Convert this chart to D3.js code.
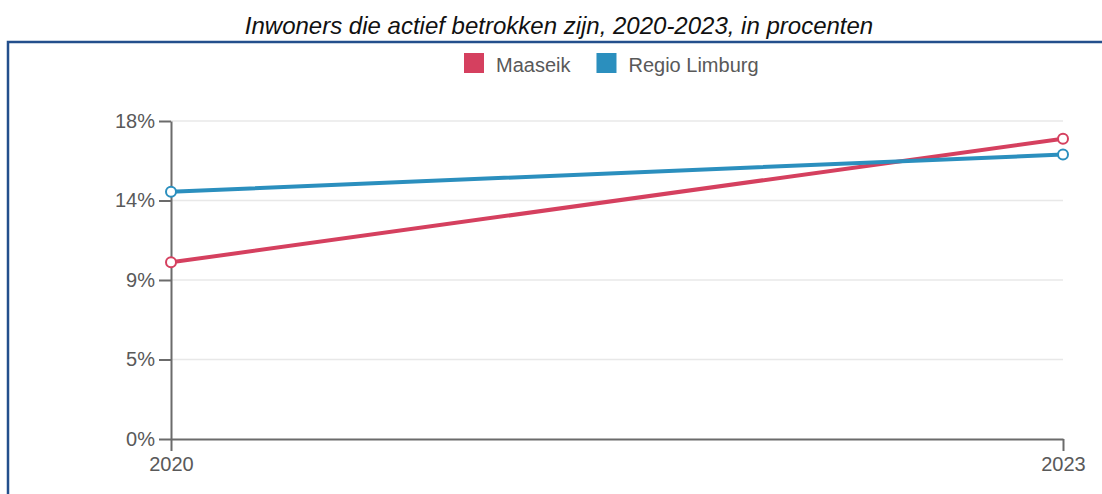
<!DOCTYPE html>
<html>
<head>
<meta charset="utf-8">
<script src="https://cdn.jsdelivr.net/npm/d3@7"></script>
<style>
  html, body { margin: 0; padding: 0; background: #fff; }
  svg { display: block; }
  text { font-family: "Liberation Sans", Arial, sans-serif; }
</style>
</head>
<body>
<svg id="chart" width="1102" height="494"></svg>
<script>
const title = "Inwoners die actief betrokken zijn, 2020-2023, in procenten";
const years = [2020, 2023];
const seriesNames = ["Maaseik", "Regio Limburg"];
const maaseik = [10.0, 17.0];
const regioLimburg = [14.0, 16.1];
const yTickValues = [0, 4.5, 9, 13.5, 18];
const yTickLabels = ["0%", "5%", "9%", "14%", "18%"];
const colors = ["#d5405f", "#2b8fbe"];

const svg = d3.select("#chart");
const W = 1102, H = 494;
const margin = { left: 171, right: 39, top: 121, bottom: 55 };

// frame border
svg.append("rect")
  .attr("x", 8).attr("y", 42)
  .attr("width", 1300).attr("height", 700)
  .attr("fill", "none")
  .attr("stroke", "#234f8c")
  .attr("stroke-width", 2.5);

// title
svg.append("text")
  .attr("x", 559).attr("y", 34)
  .attr("text-anchor", "middle")
  .attr("font-style", "italic")
  .attr("font-size", 24)
  .attr("fill", "#111")
  .text(title);

const x = d3.scaleLinear().domain(d3.extent(years)).range([margin.left, W - margin.right]);
const y = d3.scaleLinear().domain([0, 18]).range([H - margin.bottom, margin.top]);

// gridlines
svg.append("g")
  .selectAll("line")
  .data(yTickValues.slice(1))
  .join("line")
  .attr("x1", x.range()[0]).attr("x2", x.range()[1])
  .attr("y1", d => y(d)).attr("y2", d => y(d))
  .attr("stroke", "#e8e8e8")
  .attr("stroke-width", 1.5);

// y axis
const yAxis = svg.append("g")
  .attr("transform", `translate(${margin.left},0)`)
  .call(d3.axisLeft(y)
    .tickValues(yTickValues)
    .tickFormat((d, i) => yTickLabels[i])
    .tickSize(12).tickSizeOuter(0).tickPadding(4));

// x axis
const xAxis = svg.append("g")
  .attr("transform", `translate(0,${y(0)})`)
  .call(d3.axisBottom(x)
    .tickValues(years)
    .tickFormat(d3.format("d"))
    .tickSize(12).tickSizeOuter(0).tickPadding(6));

[yAxis, xAxis].forEach(g => {
  g.select(".domain").attr("stroke", "#6b6b6b").attr("stroke-width", 2);
  g.selectAll(".tick line").attr("stroke", "#6b6b6b").attr("stroke-width", 2);
  g.selectAll(".tick text")
    .attr("fill", "#595959")
    .attr("font-size", 20)
    .attr("font-family", "'Liberation Sans', Arial, sans-serif");
});

// series
const seriesData = [maaseik, regioLimburg];
const line = d3.line().x((d, i) => x(years[i])).y(d => y(d));

seriesData.forEach((vals, s) => {
  svg.append("path")
    .datum(vals)
    .attr("d", line)
    .attr("fill", "none")
    .attr("stroke", colors[s])
    .attr("stroke-width", 4)
    .attr("stroke-linecap", "round");
});
seriesData.forEach((vals, s) => {
  svg.append("g")
    .selectAll("circle")
    .data(vals)
    .join("circle")
    .attr("cx", (d, i) => x(years[i]))
    .attr("cy", d => y(d))
    .attr("r", 5)
    .attr("fill", "#fff")
    .attr("stroke", colors[s])
    .attr("stroke-width", 2);
});

// legend
const legend = svg.append("g");
let lx = 464;
seriesNames.forEach((name, i) => {
  const g = legend.append("g").attr("transform", `translate(${lx},53)`);
  g.append("rect").attr("width", 20).attr("height", 20).attr("fill", colors[i]);
  const t = g.append("text")
    .attr("x", 32).attr("y", 19)
    .attr("font-size", 20)
    .attr("fill", "#595959")
    .text(name);
  const w = t.node().getComputedTextLength();
  lx += 32 + w + 26;
});
</script>
</body>
</html>
